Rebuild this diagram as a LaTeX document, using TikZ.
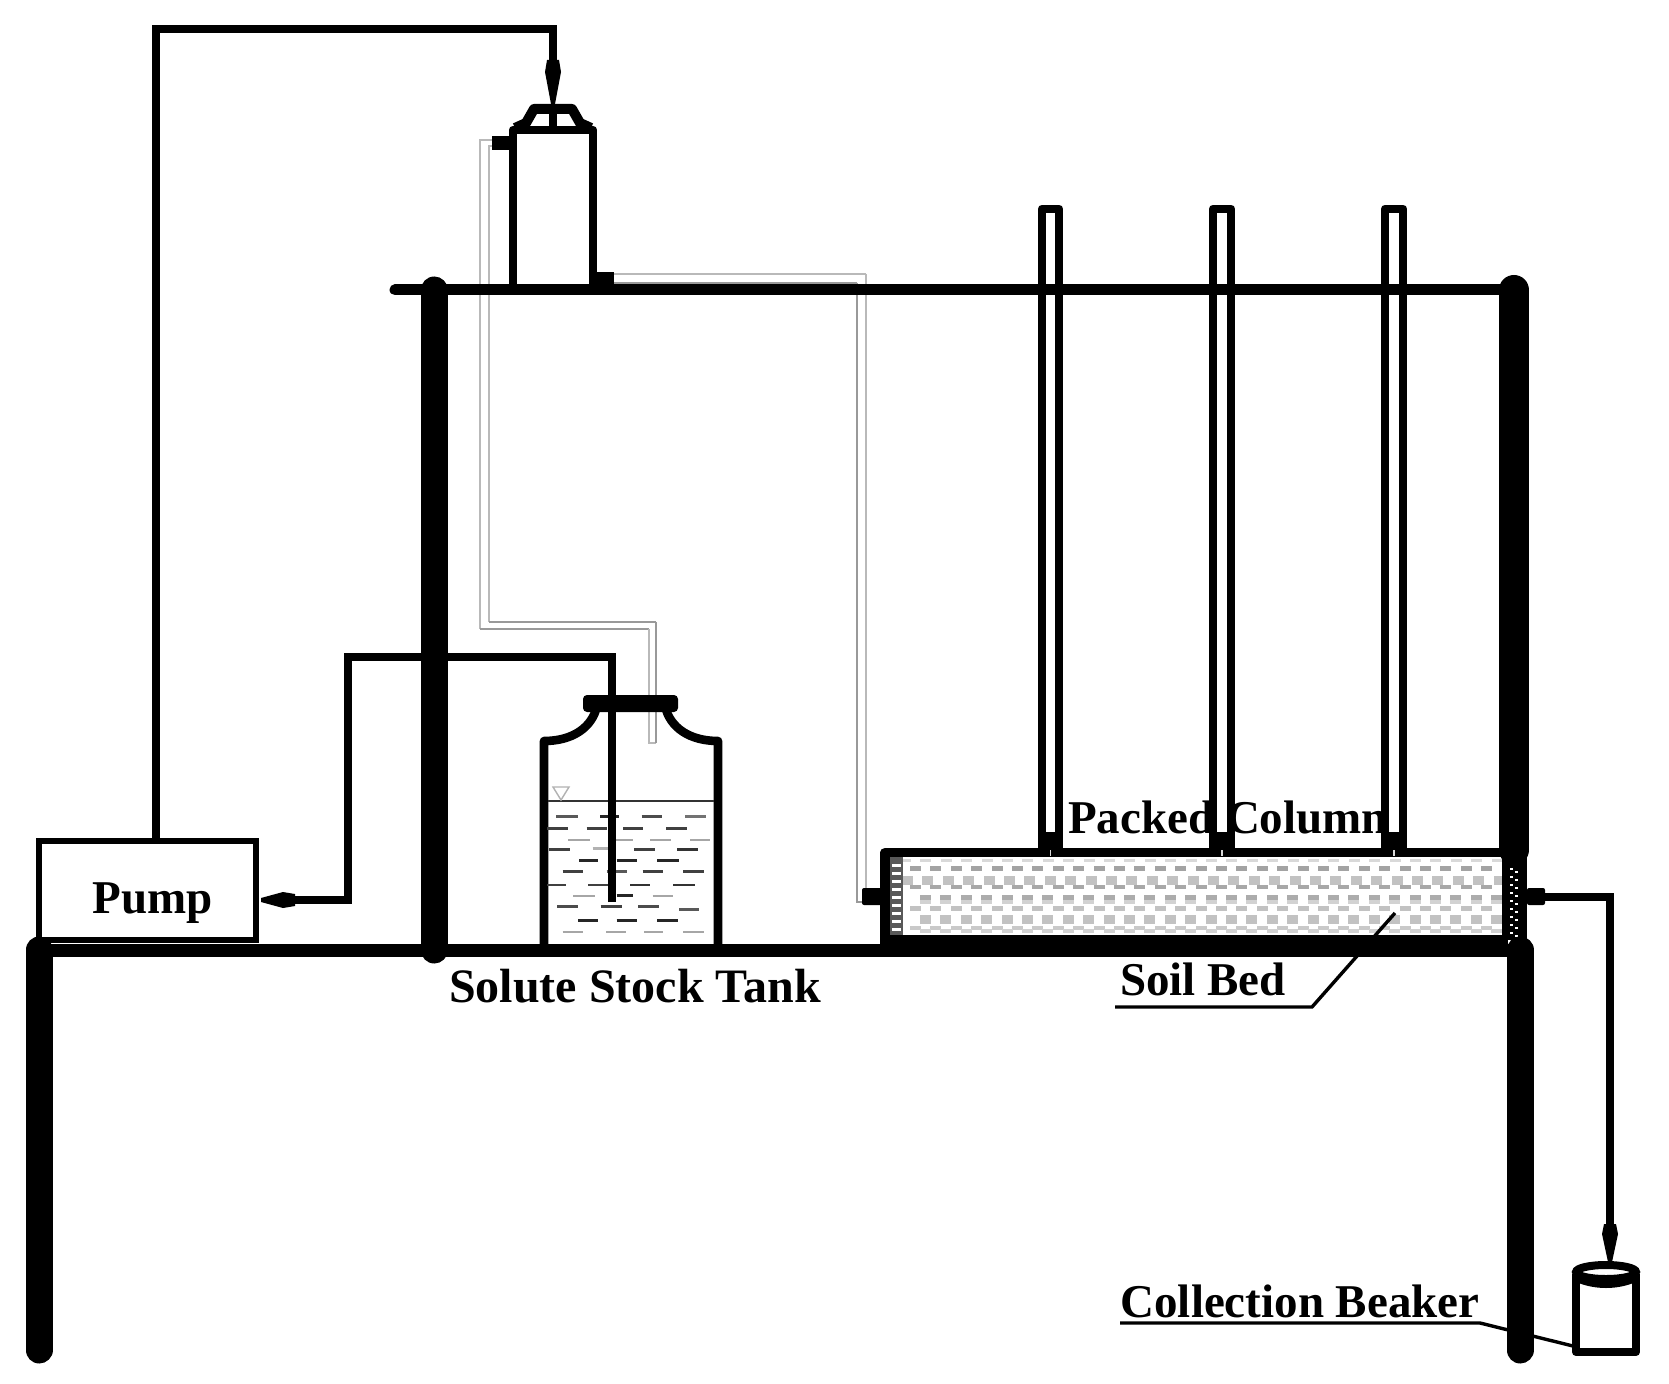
\documentclass[tikz,border=0pt]{standalone}
\usepackage{fontspec}
\setmainfont{Liberation Serif}
\begin{document}
\begin{tikzpicture}[x=.5pt,y=-.5pt,
  post/.style={line width=13.5pt,line cap=round},
  bar/.style={line width=6.5pt},
  tubeline/.style={line width=4.4pt,line join=round},
  wall/.style={line width=4.3pt,line join=round},
  greyv/.style={line width=1pt,draw=gray!55},
  greyh/.style={line width=1pt,draw=gray!80},
  waterdash/.style={line width=1.2pt},
  lbl/.style={font=\fontsize{23.5}{28}\selectfont\bfseries,inner sep=0pt,text=black},
  lead/.style={line width=1.7pt}]
\useasboundingbox[fill=white] (0,0) rectangle (1669,1384);

% reference points
\coordinate (legLT) at (39,950); \coordinate (legLB) at (39,1350);
\coordinate (legRT) at (1520,950); \coordinate (legRB) at (1520,1350);
\coordinate (postLT) at (434,290); \coordinate (postLB) at (434,950);
\coordinate (postRT) at (1514,290); \coordinate (postRB) at (1514,850);

% labels beneath the tubes
\node[lbl] (lblColumn) at (1228,817) {Packed Column};
\node[lbl,font=\fontsize{24}{28}\selectfont\bfseries] (lblTank) at (635,986) {Solute Stock Tank};
\node[lbl] (lblBed) at (1203,979) {Soil Bed};
\node[lbl] (lblBeaker) at (1300,1301) {Collection Beaker};

% soil bed pattern
\begin{scope}
\clip (903,858) rectangle (1502,936);
\foreach \i in {0,...,30}{
  \fill[gray!30] ({900+20.4*\i},859) rectangle ++(11,3);
}
\foreach \yy/\hh/\cc/\oo in {868/5/72/0,880/9/48/-8,887/4/68/0,897/5/65/10,902/4/35/10,908/5/48/0,919/9/48/10,928/4/42/0,931/4/36/10}{
  \foreach \i in {0,...,30}{
    \fill[gray!\cc] ({910+20.4*\i+\oo},{\yy-\hh/2}) rectangle ++(11,\hh);
  }
}
\end{scope}
% bed end strips
\fill[gray!70!black] (890,857) rectangle (903,936);
\foreach \yy in {864,872,...,930}{
  \fill[white] (892,\yy) rectangle ++(9,2.5);
}
\fill[black] (1502,857) rectangle (1527,940);
\foreach \yy in {868,876,...,932}{
  \fill[white] (1510,\yy) rectangle ++(2.5,2);
  \fill[white] (1515,\yy+3) rectangle ++(2.5,2);
}
% bed outline
\draw[line width=4.6pt,line join=round] (885,945) -- (885,852.5) -- (1505,852.5);
\draw[line width=4.5pt] (882,939) -- (1508,939);

% table, posts
\draw[bar] (39,950) -- (1522,950);
\draw[post] (legLT) -- (legLB);
\draw[post] (legRT) -- (legRB);
\draw[post] (postLT) -- (postLB);
\draw[line width=15pt,line cap=round] (postRT) -- (postRB);

% pump
\node[draw,line width=3pt,minimum width=108.5pt,minimum height=49.5pt,inner sep=0pt,outer sep=0pt] (pump) at (147.5,890) {};
\node[lbl] (lblPump) at (153,903) {Pump};

% head tank
\draw[wall] (513,287) -- (513,130) -- (593,130) -- (593,287);
\draw[line width=5pt,line join=round] (515,128) -- (526,123) -- (534,109) -- (572,109) -- (580,123) -- (591,128);
\coordinate (headIn) at (553,104);
\draw[line width=4pt] (553,108) -- (553,130);
\fill (492,136) rectangle (510,150);
\fill (596,272) rectangle (614,287);

% grey tube: head tank to stock tank
\draw[greyv] (492,140) -- (480,140) -- (480,629);
\draw[greyv] (492,146) -- (489,146) -- (489,622);
\draw[greyh] (480,629) -- (649,629);
\draw[greyh] (489,622) -- (656,622);
\draw[greyv] (649,629) -- (649,743) -- (656,743);
\draw[greyh] (656,622) -- (656,743);

% grey tube: head tank to bed
\draw[greyv] (614,274) -- (866,274);
\draw[greyh] (614,283) -- (857,283);
\draw[greyv] (866,274) -- (866,888);
\draw[greyh] (857,283) -- (857,902) -- (864,902);
\fill[rounded corners=1pt] (862,888) rectangle (882,905);

% stock tank
\draw[wall] (544,945) -- (544,741) .. controls (572,741) and (592,728) .. (597,706);
\draw[wall] (718,945) -- (718,741) .. controls (690,741) and (670,728) .. (665,706);
\fill[rounded corners=2pt] (583,695) rectangle (678,712);
\draw[line width=.8pt,draw=gray!40!black] (548,801) -- (714,801);
\draw[line width=.7pt,draw=gray!60,fill=white] (553,787) -- (569,787) -- (561,800) -- cycle;
\foreach \a/\b/\y/\c in {
 288/355/650/65,420/478/650/85,545/605/650/70,675/738/650/55,
 262/325/685/75,380/440/685/75,490/550/685/75,618/680/685/75,
 325/390/720/35,465/520/720/35,570/632/720/35,690/750/720/35,
 268/330/748/75,398/445/745/30,522/585/748/75,652/715/748/80,
 358/415/781/85,470/530/781/85,592/658/781/85,
 308/368/815/75,440/500/815/65,548/608/815/75,670/732/815/75,
 262/318/855/75,385/445/855/75,510/570/855/80,640/705/855/80,
 340/405/888/35,470/518/886/85,578/640/888/35,
 292/355/920/70,422/485/920/75,535/598/920/70,658/716/928/65,
 355/415/962/85,470/530/962/85,592/655/962/85,
 308/370/996/35,438/498/996/35,552/610/996/35,670/732/996/35}{
  \draw[waterdash,draw=black!\c] ({460+\a/3},{600+\y/3}) -- ({460+\b/3},{600+\y/3});
}

% connectors
\coordinate (pumpOut) at (156,840);
\draw[line width=4pt,line join=miter] (pumpOut) -- (156,29) -- (553,29) -- (553,72);
\fill (headIn) ++(-2,0) -- ++(-6,-32) -- ++(2,-12) -- ++(12,0) -- ++(2,12) -- ++(-6,32) -- cycle;

\coordinate (pumpIn) at (261,900);
\draw[line width=4pt,line join=miter] (612,902) -- (612,657) -- (348,657) -- (348,900) -- (285,900);
\fill (pumpIn) ++(0,-2) -- ++(22,-6) -- ++(12,2) -- ++(0,12) -- ++(-12,2) -- ++(-22,-6) -- cycle;

\coordinate (beakerIn) at (1610,1262);
\fill[rounded corners=1pt] (1527,888) rectangle (1545,905);
\draw[line width=4pt,line join=miter] (1540,896.5) -- (1610,896.5) -- (1610,1232);
\fill (beakerIn) ++(-2,0) -- ++(-6,-28) -- ++(2,-10) -- ++(12,0) -- ++(2,10) -- ++(-6,28) -- cycle;

% beaker
\draw[line width=4pt,line join=round] (1576,1274) -- (1576,1352) -- (1636,1352) -- (1636,1274);
\draw[line width=4pt,fill=white] (1606,1272) ellipse [x radius=30,y radius=7];
\fill (1576,1276) .. controls (1595,1284) and (1617,1284) .. (1636,1276) -- (1636,1282) .. controls (1617,1290) and (1595,1290) .. (1576,1282) -- cycle;

% piezometer tubes
\foreach \xa/\xb in {1042/1059,1213/1231,1385/1403}{
  \fill[white] (\xa,209) rectangle (\xb,850);
  \draw[tubeline] (\xa,851) -- (\xa,209) -- (\xb,209) -- (\xb,851);
  \fill (\xa,832) rectangle (\xb,850);
  \draw[line width=.6pt,draw=gray!30] ({(\xa+\xb)/2},850) -- ({(\xa+\xb)/2},856);
}
% shelf, over the tubes
\draw[line width=5.5pt,line cap=round] (395,290) -- (postRT);

% leaders
\draw[lead] (1115,1007) -- (1312,1007) -- (1395,913);
\draw[lead] (1120,1323) -- (1480,1323) -- (1573,1346);
\end{tikzpicture}
\end{document}
